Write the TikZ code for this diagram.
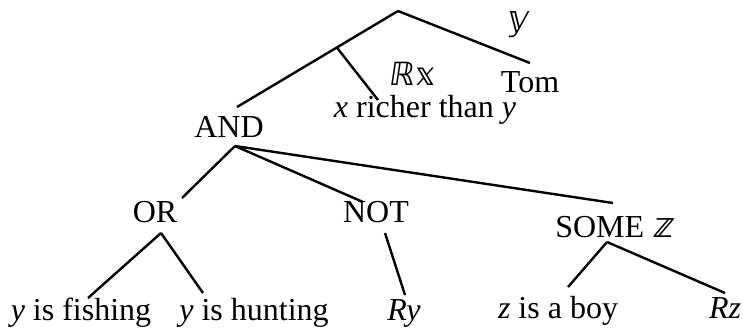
\documentclass[tikz,border=0pt]{standalone}
\usepackage{fontspec}
\setmainfont{Liberation Serif}
\newfontfamily\dsfont{DejaVu Sans}[FakeSlant=0.15]
\usetikzlibrary{calc}

\begin{document}
\begin{tikzpicture}[
    x=0.375pt, y=-0.375pt,
    lbl/.style={anchor=base, inner sep=0pt, font=\fontsize{12}{14}\selectfont},
    brn/.style={line width=0.9pt}
]
    \useasboundingbox (0,0) rectangle (743,330);

    % top: quantifier over y
    \coordinate (root) at (398,11);
    \node[lbl] (vary) at (517,30) {{\dsfont\fontsize{13}{14}\selectfont 𝕪}};
    \node[lbl] (tom) at (530,92) {Tom};
    \node[lbl] (relx) at (412,85) {{\dsfont ℝ𝕩}};
    \node[lbl] (rich) at (425,117) {\textit{x} richer than \textit{y}};
    \node[lbl] (and) at (229,137) {AND};

    % second level
    \node[lbl] (or) at (155,222) {OR};
    \node[lbl] (not) at (376,222) {NOT};
    \node[lbl] (some) at (614,237) {SOME {\dsfont\fontsize{13}{14}\selectfont 𝕫}};

    % leaves
    \node[lbl] (fish) at (81,320) {\textit{y} is fishing};
    \node[lbl] (hunt) at (254,320) {\textit{y} is hunting};
    \node[lbl] (ry) at (404,320) {\textit{Ry}};
    \node[lbl] (boy) at (558,318) {\textit{z} is a boy};
    \node[lbl] (rz) at (725,318) {\textit{Rz}};

    \draw[brn] (root) -- ($(tom.base)+(0,-29)$);
    \draw[brn] (root) -- coordinate[pos=0.38] (lam) ($(and.base)+(8,-30)$);
    \draw[brn] (lam) -- ($(rich.base)+(-47,-17)$);

    \coordinate (andbot) at ($(and.base)+(6,9)$);
    \draw[brn] (andbot) -- ($(or.base)+(27,-24)$);
    \draw[brn] (andbot) -- ($(not.base)+(-13,-20)$);
    \draw[brn] (andbot) -- ($(some.base)+(-1,-34)$);

    \coordinate (orbot) at ($(or.base)+(6,11)$);
    \draw[brn] (orbot) -- ($(fish.base)+(7,-22)$);
    \draw[brn] (orbot) -- ($(hunt.base)+(-51,-27)$);

    \draw[brn] ($(not.base)+(9,11)$) -- ($(ry.base)+(1,-25)$);

    \coordinate (somebot) at ($(some.base)+(-7,5)$);
    \draw[brn] (somebot) -- ($(boy.base)+(10,-31)$);
    \draw[brn] (somebot) -- ($(rz.base)+(0,-25)$);
\end{tikzpicture}
\end{document}
